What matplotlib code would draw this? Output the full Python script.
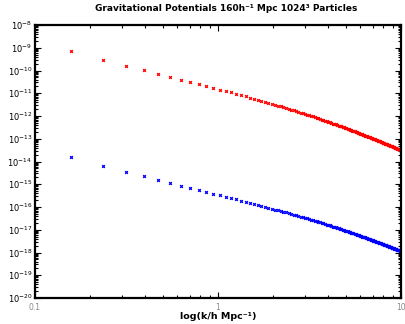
#!/usr/bin/env python3
"""
Gravitational potential power spectra, two particle runs, log-log
"""

import numpy as np
import matplotlib
matplotlib.use('Agg')
import matplotlib.pyplot as plt
from matplotlib.ticker import LogLocator, NullFormatter, FixedLocator, FixedFormatter

# k grid: points sit at multiples of the fundamental step (h/Mpc)
dk = 0.0785398
mode = np.arange(2, 128)

# log10 of the potential spectrum
red_log = [
    -9.15, -9.55, -9.79, -9.99, -10.17, -10.30, -10.43, -10.52, -10.61, -10.69,
    -10.77, -10.84, -10.90, -10.96, -11.03, -11.09, -11.13, -11.19, -11.25, -11.29,
    -11.34, -11.38, -11.42, -11.46, -11.50, -11.54, -11.58, -11.61, -11.65, -11.68,
    -11.72, -11.75, -11.78, -11.82, -11.85, -11.88, -11.91, -11.94, -11.97, -12.00,
    -12.02, -12.05, -12.08, -12.10, -12.13, -12.16, -12.18, -12.21, -12.23, -12.26,
    -12.28, -12.30, -12.33, -12.35, -12.37, -12.39, -12.42, -12.44, -12.46, -12.48,
    -12.50, -12.52, -12.54, -12.56, -12.58, -12.60, -12.62, -12.64, -12.66, -12.68,
    -12.70, -12.72, -12.73, -12.75, -12.77, -12.79, -12.80, -12.82, -12.84, -12.86,
    -12.87, -12.89, -12.91, -12.92, -12.94, -12.96, -12.97, -12.99, -13.00, -13.02,
    -13.03, -13.05, -13.06, -13.08, -13.09, -13.11, -13.12, -13.14, -13.15, -13.17,
    -13.18, -13.20, -13.21, -13.22, -13.24, -13.25, -13.26, -13.28, -13.29, -13.30,
    -13.32, -13.33, -13.34, -13.36, -13.37, -13.38, -13.40, -13.41, -13.42, -13.43,
    -13.45, -13.46, -13.47, -13.48, -13.49, -13.51,
]

blue_log = [
    -13.79, -14.18, -14.45, -14.64, -14.83, -14.96, -15.06, -15.18, -15.27, -15.34,
    -15.42, -15.47, -15.55, -15.60, -15.66, -15.72, -15.77, -15.83, -15.88, -15.92,
    -15.96, -16.00, -16.04, -16.08, -16.11, -16.15, -16.18, -16.21, -16.24, -16.27,
    -16.31, -16.34, -16.36, -16.39, -16.42, -16.45, -16.48, -16.50, -16.53, -16.56,
    -16.58, -16.61, -16.63, -16.65, -16.68, -16.70, -16.72, -16.75, -16.77, -16.79,
    -16.81, -16.84, -16.86, -16.88, -16.90, -16.92, -16.94, -16.96, -16.98, -17.00,
    -17.02, -17.04, -17.05, -17.07, -17.09, -17.11, -17.13, -17.14, -17.16, -17.18,
    -17.20, -17.21, -17.23, -17.25, -17.26, -17.28, -17.30, -17.31, -17.33, -17.34,
    -17.36, -17.37, -17.39, -17.40, -17.42, -17.43, -17.45, -17.46, -17.48, -17.49,
    -17.51, -17.52, -17.53, -17.55, -17.56, -17.58, -17.59, -17.60, -17.62, -17.63,
    -17.64, -17.66, -17.67, -17.68, -17.69, -17.71, -17.72, -17.73, -17.74, -17.76,
    -17.77, -17.78, -17.79, -17.81, -17.82, -17.83, -17.84, -17.85, -17.86, -17.88,
    -17.89, -17.90, -17.91, -17.92, -17.93, -17.94,
]

x_ticks = [0.1, 1, 10]
x_labels = ['0.1', '1', '10']
y_decades = list(range(-20, -7))


def main():
    k = mode * dk
    red = 10.0 ** np.array(red_log)
    blue = 10.0 ** np.array(blue_log)

    fig = plt.figure(figsize=(4.06, 3.24), dpi=100)
    ax = fig.add_axes([0.0862, 0.0802, 0.9015, 0.8426])

    ax.plot(k, red, linestyle='none', marker='x', color='#ff0000',
            markersize=2.0, markeredgewidth=0.9)
    ax.plot(k, blue, linestyle='none', marker='x', color='#0000ff',
            markersize=2.0, markeredgewidth=0.9)

    ax.set_xscale('log')
    ax.set_yscale('log')
    ax.set_xlim(0.1, 10)
    ax.set_ylim(1e-20, 1e-8)

    # x ticks: only 0.1, 1, 10 labelled, in light grey
    ax.xaxis.set_major_locator(FixedLocator(x_ticks))
    ax.xaxis.set_major_formatter(FixedFormatter(x_labels))
    ax.xaxis.set_minor_locator(LogLocator(base=10, subs=np.arange(2, 10)))
    ax.xaxis.set_minor_formatter(NullFormatter())

    ax.yaxis.set_major_locator(FixedLocator([10.0 ** d for d in y_decades]))
    ax.yaxis.set_major_formatter(FixedFormatter(['$10^{%d}$' % d for d in y_decades]))
    ax.yaxis.set_minor_locator(LogLocator(base=10, subs=np.arange(2, 10), numticks=50))
    ax.yaxis.set_minor_formatter(NullFormatter())

    ax.tick_params(which='both', direction='in', top=True, right=True, width=0.8)
    ax.tick_params(which='major', length=4)
    ax.tick_params(which='minor', length=2)
    ax.tick_params(axis='x', which='major', labelsize=5.5, labelcolor='#888888', pad=3.5)
    ax.tick_params(axis='y', which='major', labelsize=6, pad=2)
    for lab in ax.get_yticklabels():
        lab.set_fontweight('bold')

    for spine in ax.spines.values():
        spine.set_linewidth(1.6)

    fig.text(0.537, 0.008, 'log(k/h Mpc\u207b\u00b9)', ha='center', va='bottom',
             fontsize=6.8, fontweight='bold')
    fig.text(0.558, 0.975, 'Gravitational Potentials 160h\u207b\u00b9 Mpc 1024\u00b3 Particles',
             ha='center', va='center', fontsize=6.5, fontweight='bold')

    fig.savefig('out.png', dpi=100)
    plt.close(fig)


if __name__ == '__main__':
    main()
